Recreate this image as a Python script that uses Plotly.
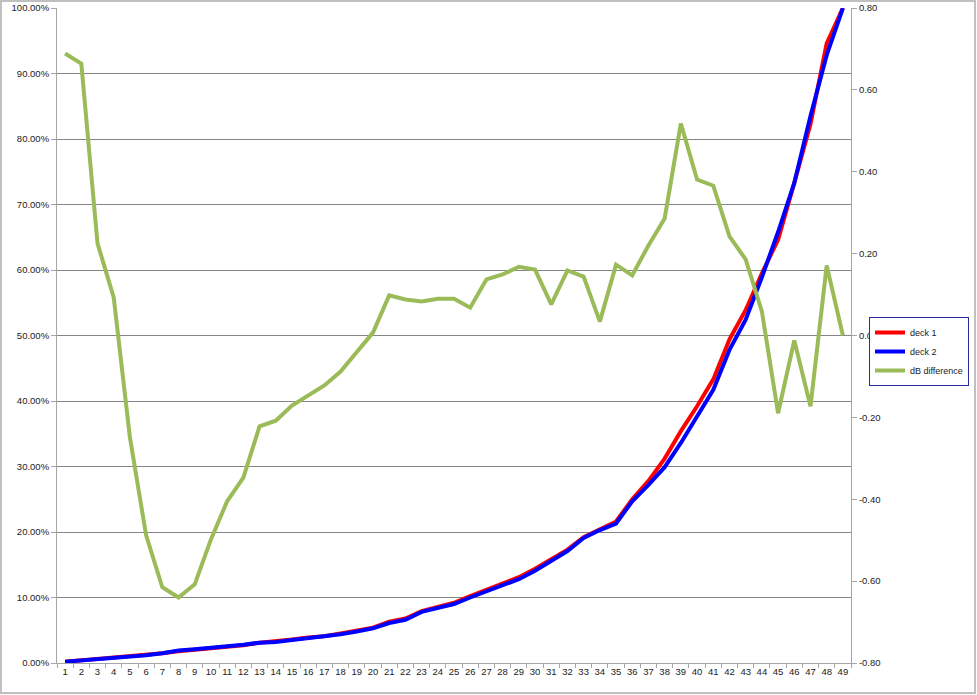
import plotly.graph_objects as go

categories = [str(i) for i in range(1, 50)]

deck1 = [0.002, 0.004, 0.006, 0.008, 0.010, 0.012, 0.015, 0.018, 0.020, 0.022,
         0.025, 0.027, 0.031, 0.033, 0.036, 0.039, 0.041, 0.045, 0.049, 0.054,
         0.063, 0.068, 0.079, 0.085, 0.092, 0.102, 0.112, 0.122, 0.131, 0.144,
         0.158, 0.173, 0.192, 0.204, 0.216, 0.250, 0.278, 0.312, 0.354, 0.392,
         0.433, 0.494, 0.539, 0.595, 0.646, 0.733, 0.823, 0.946, 1.000]

deck2 = [0.002, 0.004, 0.006, 0.008, 0.009, 0.012, 0.015, 0.019, 0.021, 0.023,
         0.026, 0.028, 0.031, 0.032, 0.035, 0.038, 0.040, 0.044, 0.048, 0.053,
         0.061, 0.066, 0.078, 0.084, 0.090, 0.100, 0.109, 0.119, 0.128, 0.141,
         0.156, 0.171, 0.191, 0.203, 0.213, 0.247, 0.272, 0.299, 0.336, 0.376,
         0.417, 0.478, 0.524, 0.589, 0.658, 0.733, 0.835, 0.928, 1.000]

db_diff = [0.689, 0.664, 0.225, 0.093, -0.249, -0.488, -0.615, -0.640, -0.608, -0.498,
           -0.405, -0.347, -0.222, -0.208, -0.171, -0.147, -0.122, -0.088, -0.039, 0.007,
           0.098, 0.088, 0.083, 0.090, 0.090, 0.068, 0.137, 0.149, 0.168, 0.161,
           0.076, 0.159, 0.144, 0.034, 0.173, 0.147, 0.220, 0.286, 0.518, 0.381,
           0.366, 0.242, 0.186, 0.059, -0.190, -0.012, -0.173, 0.171, 0.000]

y_left_ticks = [0, 0.1, 0.2, 0.3, 0.4, 0.5, 0.6, 0.7, 0.8, 0.9, 1.0]
y_right_ticks = [-0.8, -0.6, -0.4, -0.2, 0.0, 0.2, 0.4, 0.6, 0.8]
y_right_labels = ["-0.80", "-0.60", "-0.40", "-0.20", "0.00", "0.20", "0.40", "0.60", "0.80"]

FONT = "Liberation Sans"

fig = go.Figure()
fig.add_trace(go.Scatter(x=categories, y=deck1, name="deck 1", mode="lines",
                         line=dict(color="#ff0000", width=4), yaxis="y"))
fig.add_trace(go.Scatter(x=categories, y=deck2, name="deck 2", mode="lines",
                         line=dict(color="#0000ff", width=4), yaxis="y"))
fig.add_trace(go.Scatter(x=categories, y=db_diff, name="dB difference", mode="lines",
                         line=dict(color="#9bbb59", width=4), yaxis="y2"))

W, H = 977, 695
L, R, T, B = 57, 126, 8, 32
pw, ph = W - L - R, H - T - B

def px_x(x):
    return (x - L) / pw

def px_y(y):
    return (H - B - y) / ph

fig.update_layout(
    width=W, height=H,
    margin=dict(l=L, r=R, t=T, b=B, autoexpand=False),
    paper_bgcolor="white", plot_bgcolor="white",
    font=dict(family=FONT, size=10, color="#222222"),
    showlegend=True,
    legend=dict(x=px_x(869), y=px_y(317), xanchor="left", yanchor="top",
                bordercolor="#2a2aa0", borderwidth=1, bgcolor="white",
                font=dict(family=FONT, size=9, color="#222222"),
                tracegroupgap=4),
    xaxis=dict(type="category", range=[-0.5, 48.5], showgrid=False,
               showline=True, linecolor="#a6a6a6", linewidth=1,
               ticks="outside", tickson="boundaries", ticklen=4, tickcolor="#a6a6a6",
               tickangle=0, automargin=False,
               tickfont=dict(family=FONT, size=9.5), zeroline=False),
    yaxis=dict(range=[0, 1], tickvals=y_left_ticks, tickformat=".2%",
               showgrid=True, gridcolor="#858585", gridwidth=1,
               showline=True, linecolor="#a6a6a6", linewidth=1,
               ticks="outside", ticklen=5, tickcolor="#a6a6a6", automargin=False,
               zeroline=False, tickfont=dict(family=FONT, size=9.5)),
    yaxis2=dict(range=[-0.8, 0.8], tickvals=y_right_ticks, ticktext=y_right_labels,
                overlaying="y", side="right", showgrid=False,
                showline=True, linecolor="#a6a6a6", linewidth=1,
                ticks="outside", ticklen=5, tickcolor="#a6a6a6", automargin=False,
                zeroline=False, tickfont=dict(family=FONT, size=9.5)),
    shapes=[dict(type="rect", xref="paper", yref="paper",
                 x0=px_x(1), x1=px_x(975), y0=px_y(693), y1=px_y(1),
                 line=dict(color="#c0c0c0", width=2), fillcolor="rgba(0,0,0,0)",
                 layer="below")],
)

fig.write_html("out.html",
               config={"displayModeBar": False},
               post_script="document.body.style.margin='0';document.body.style.padding='0';")
